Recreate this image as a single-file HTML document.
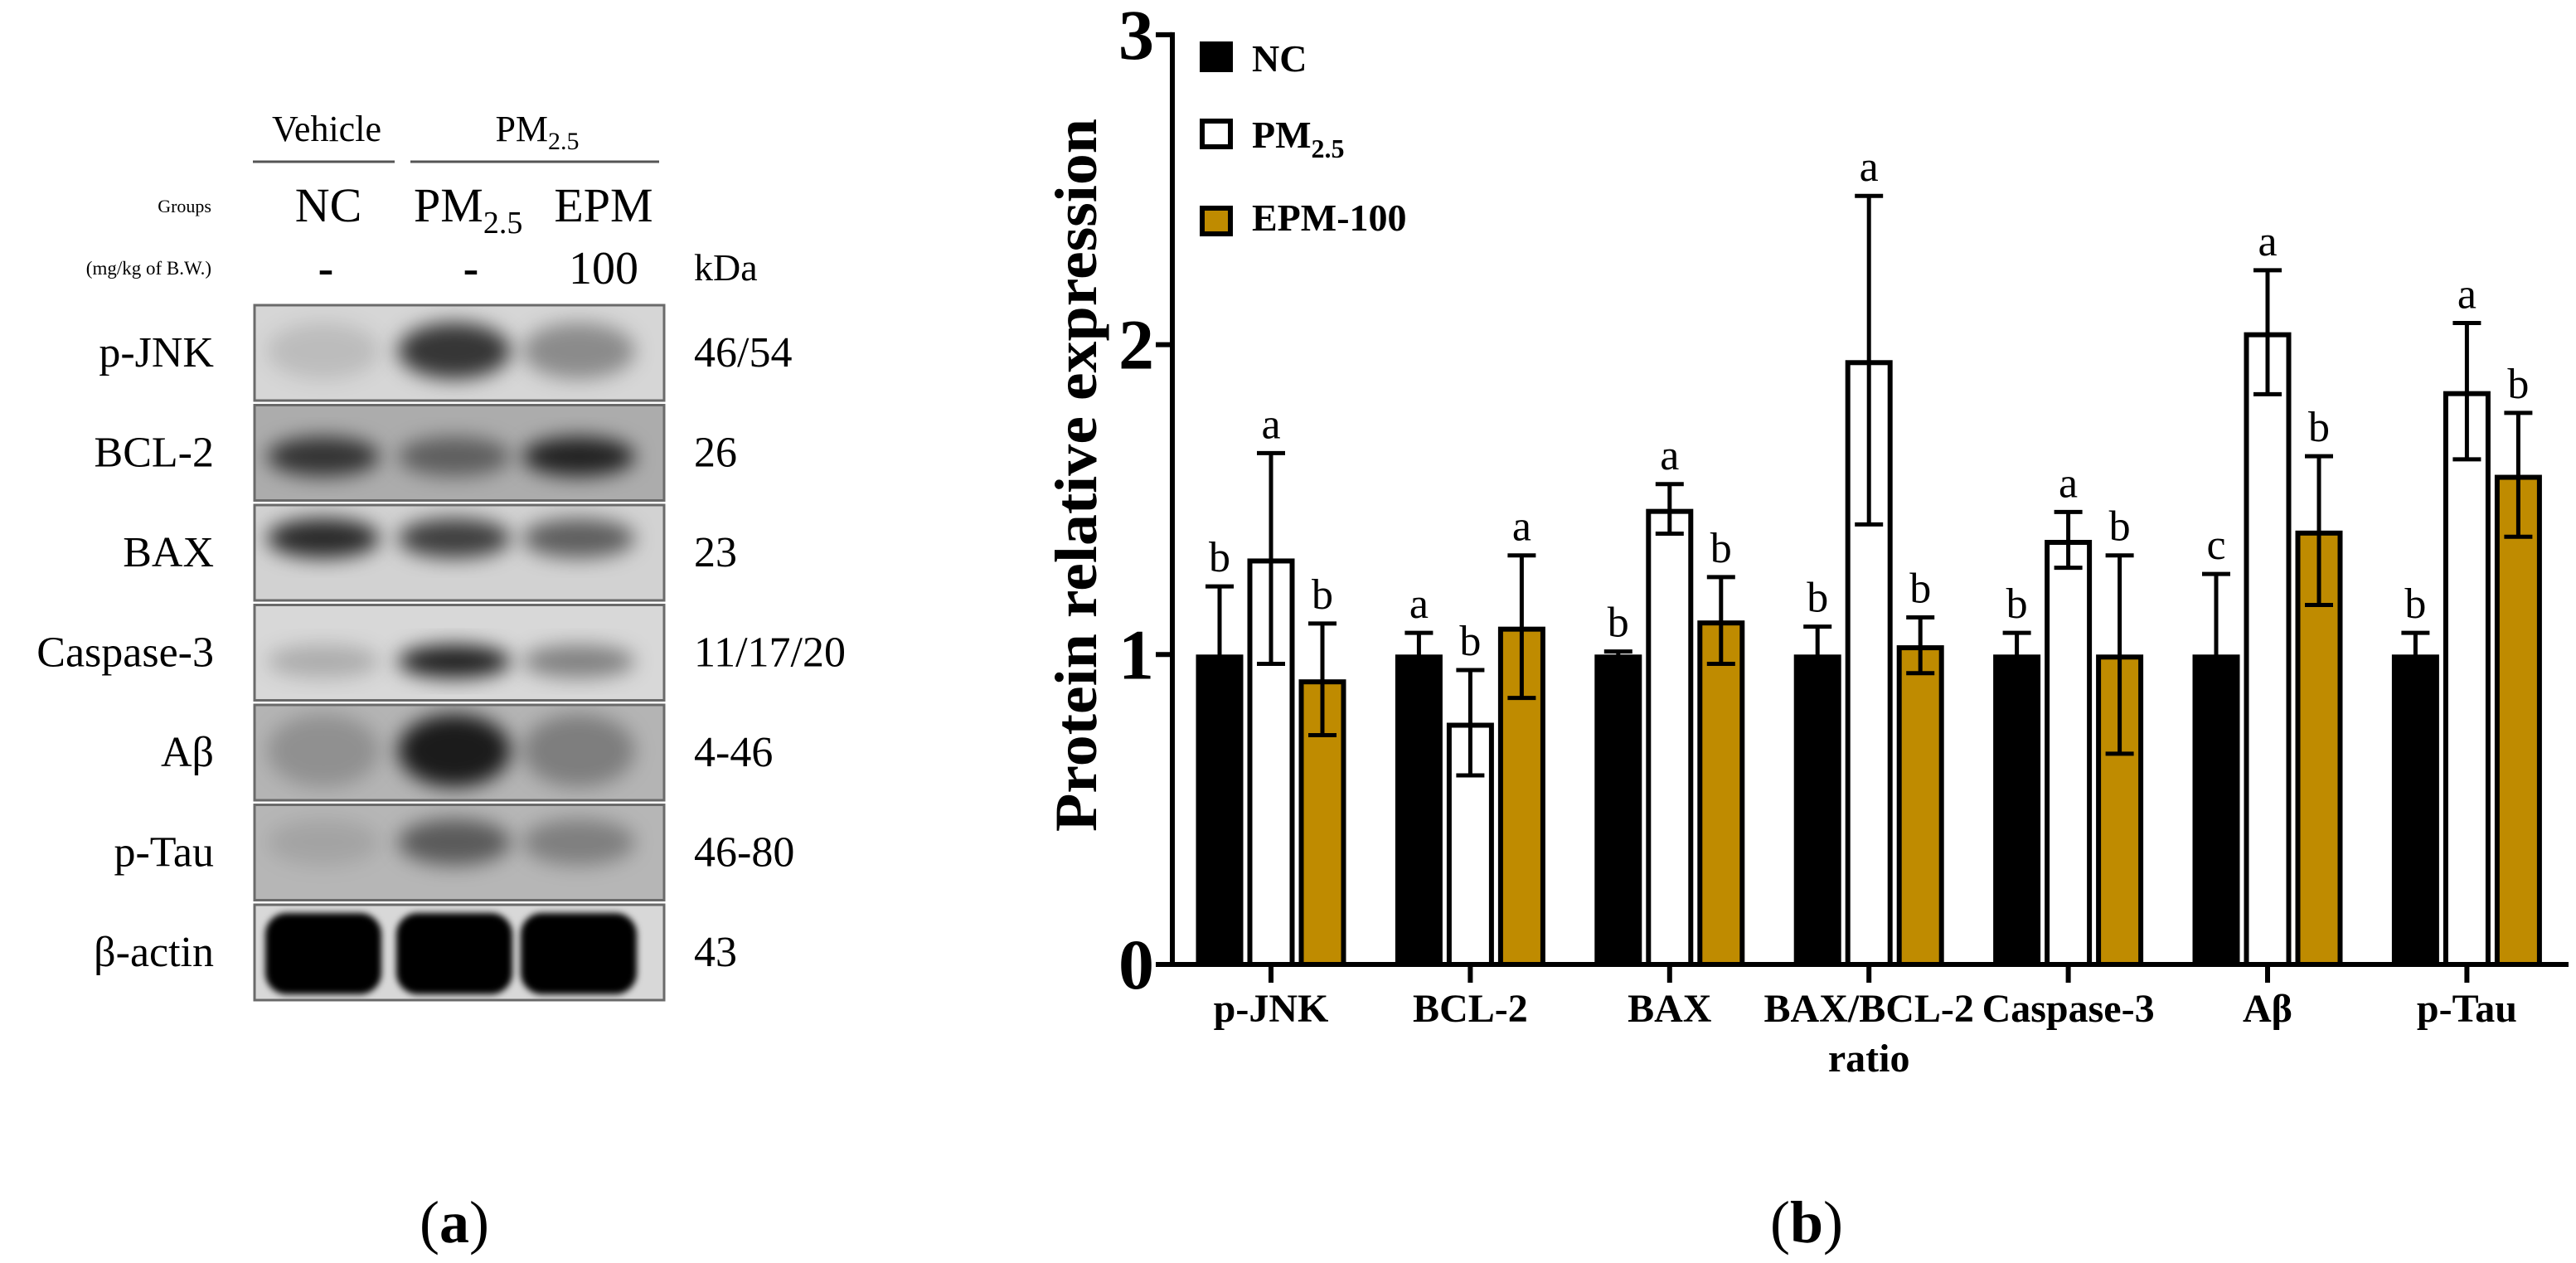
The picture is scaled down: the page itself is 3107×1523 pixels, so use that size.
<!DOCTYPE html>
<html><head><meta charset="utf-8"><style>
html,body{margin:0;padding:0;background:#fff;}
svg{display:block;}
text{font-family:"Liberation Serif",serif;}
</style></head>
<body>
<svg id="fig" width="3107" height="1523" viewBox="0 0 3107 1523" xmlns="http://www.w3.org/2000/svg" font-family="Liberation Serif, serif">
<defs>
<filter id="blur8" x="-50%" y="-50%" width="200%" height="200%"><feGaussianBlur stdDeviation="12"/></filter>
<filter id="blur3" x="-20%" y="-20%" width="140%" height="140%"><feGaussianBlur stdDeviation="4"/></filter>
</defs>

<!-- Panel A: western blot -->
<g font-family="Liberation Serif, serif">
  <text x="394" y="170" font-size="44" text-anchor="middle">Vehicle</text>
  <text x="648" y="170" font-size="44" text-anchor="middle">PM<tspan font-size="30" dy="10">2.5</tspan></text>
  <line x1="305" y1="195" x2="476" y2="195" stroke="#555" stroke-width="3"/>
  <line x1="495" y1="195" x2="795" y2="195" stroke="#555" stroke-width="3"/>
  <text x="255" y="256" font-size="22" text-anchor="end">Groups</text>
  <text x="396" y="267" font-size="58" text-anchor="middle">NC</text>
  <text x="499" y="267" font-size="58">PM<tspan font-size="38" dy="14">2.5</tspan></text>
  <text x="728" y="267" font-size="58" text-anchor="middle">EPM</text>
  <text x="255" y="331" font-size="23" text-anchor="end">(mg/kg of B.W.)</text>
  <text x="393" y="342" font-size="56" text-anchor="middle" font-weight="bold">-</text>
  <text x="568" y="342" font-size="56" text-anchor="middle" font-weight="bold">-</text>
  <text x="728" y="342" font-size="56" text-anchor="middle">100</text>
  <text x="837" y="338" font-size="46">kDa</text>
  <g id="blots"></g>
  <text x="548" y="1498" font-size="72" text-anchor="middle">(<tspan font-weight="bold">a</tspan>)</text>
</g>

<!-- Panel B: chart -->
<g id="chart" font-family="Liberation Serif, serif">
  <text x="2179" y="1498" font-size="72" text-anchor="middle">(<tspan font-weight="bold">b</tspan>)</text>
</g>
</svg>

<script>
// ---------- chart data ----------
const categories = ["p-JNK","BCL-2","BAX","BAX/BCL-2","Caspase-3","Aβ","p-Tau"];
const categorySecondLine = ["","","","ratio","","",""];
const ncValues  = [1, 1, 1, 1, 1, 1, 1];
const ncErr     = [0.22, 0.07, 0.01, 0.09, 0.07, 0.26, 0.07];
const pmValues  = [1.31, 0.78, 1.47, 1.95, 1.37, 2.04, 1.85];
const pmErr     = [0.34, 0.17, 0.08, 0.53, 0.09, 0.20, 0.22];
const epmValues = [0.92, 1.09, 1.11, 1.03, 1.00, 1.40, 1.58];
const epmErr    = [0.18, 0.23, 0.14, 0.09, 0.32, 0.24, 0.20];
const ncLetters  = ["b","a","b","b","b","c","b"];
const pmLetters  = ["a","b","a","a","a","a","a"];
const epmLetters = ["b","a","b","b","b","b","b"];
const yTicks = [0, 1, 2, 3];

// ---------- blot data ----------
const blotProteins = ["p-JNK","BCL-2","BAX","Caspase-3","Aβ","p-Tau","β-actin"];
const blotKda = ["46/54","26","23","11/17/20","4-46","46-80","43"];
const blotBg = ["#d6d6d6","#acacac","#d2d2d2","#d8d8d8","#b4b4b4","#b6b6b6","#d8d8d8"];
// band darkness per lane (0 = none, 1 = black): NC, PM, EPM
const blotIntensity = [
  [0.12, 0.75, 0.35],
  [0.7, 0.45, 0.8],
  [0.8, 0.7, 0.55],
  [0.2, 0.85, 0.4],
  [0.2, 0.85, 0.3],
  [0.1, 0.5, 0.3],
  [1, 1, 1]
];

const NS = "http://www.w3.org/2000/svg";
function mk(tag, attrs, parent) {
  const e = document.createElementNS(NS, tag);
  for (const k in attrs) e.setAttribute(k, attrs[k]);
  parent.appendChild(e);
  return e;
}

// ---------- chart scales ----------
const Y0 = 1163, PX_PER_UNIT = 373.7, AXIS_X = 1414, FIRST_C = 1533, STEP = 240.4, BAR_OFF = 62, BAR_W = 57;
function yScale(v) { return Y0 - v * PX_PER_UNIT; }
function xScale(i) { return FIRST_C + i * STEP; }

const chart = document.getElementById('chart');
const seriesList = [
  {vals: ncValues, errs: ncErr, letters: ncLetters, fill: "#000", off: -BAR_OFF, name: "nc"},
  {vals: pmValues, errs: pmErr, letters: pmLetters, fill: "#fff", off: 0, name: "pm25"},
  {vals: epmValues, errs: epmErr, letters: epmLetters, fill: "#BF8B00", off: BAR_OFF, name: "epm100"}
];

categories.forEach((cat, i) => {
  const c = xScale(i);
  seriesList.forEach(s => {
    const cx = c + s.off;
    const top = yScale(s.vals[i]);
    const r = mk('rect', {x: cx - BAR_W/2 + 3, y: top + 3, width: BAR_W - 6, height: Y0 - top - 3, fill: s.fill, stroke: "#000", "stroke-width": 6}, chart);
    
    
    const eTop = yScale(s.vals[i] + s.errs[i]);
    const eBot = yScale(s.vals[i] - s.errs[i]);
    const eb = mk('path', {d: `M${cx},${eTop}V${eBot}M${cx-17},${eTop}H${cx+17}M${cx-17},${eBot}H${cx+17}`, stroke: "#000", "stroke-width": 5, fill: "none"}, chart);
    
    
    const lt = mk('text', {x: cx, y: eTop - 18, "font-size": 52, "text-anchor": "middle", "font-family": "Liberation Serif, serif"}, chart);
    lt.textContent = s.letters[i];
    
    
  });
  const tk = mk('line', {x1: c, y1: Y0, x2: c, y2: 1185, stroke: "#000", "stroke-width": 6}, chart);
  
  
  const lb = mk('text', {x: c, y: 1232, "font-size": 48, "font-weight": "bold", "text-anchor": "middle", "font-family": "Liberation Serif, serif"}, chart);
  lb.textContent = cat;
  
  
  if (categorySecondLine[i]) {
    const lb2 = mk('text', {x: c, y: 1292, "font-size": 48, "font-weight": "bold", "text-anchor": "middle", "font-family": "Liberation Serif, serif"}, chart);
    lb2.textContent = categorySecondLine[i];
    
    
  }
});

// axes
const yAxis = mk('line', {x1: AXIS_X, y1: yScale(3) - 3, x2: AXIS_X, y2: Y0 + 3, stroke: "#000", "stroke-width": 6}, chart);


const xAxis = mk('line', {x1: 1394, y1: Y0, x2: 3098, y2: Y0, stroke: "#000", "stroke-width": 6}, chart);


yTicks.forEach(v => {
  const t = mk('line', {x1: 1394, y1: yScale(v), x2: AXIS_X, y2: yScale(v), stroke: "#000", "stroke-width": 6}, chart);
  
  
  const l = mk('text', {x: 1392, y: yScale(v) + 29, "font-size": 86, "font-weight": "bold", "text-anchor": "end", "font-family": "Liberation Serif, serif"}, chart);
  l.textContent = String(v);
  
  
});
const yt = mk('text', {x: 0, y: 0, "font-size": 72, "font-weight": "bold", "text-anchor": "middle", textLength: 860, lengthAdjust: "spacingAndGlyphs", transform: "translate(1322,573) rotate(-90)", "font-family": "Liberation Serif, serif"}, chart);
yt.textContent = "Protein relative expression";



// legend
const legend = mk('g', {}, chart);


const legRows = [
  {y: 50, fill: "#000", label: "NC", base: 86, name: "legend-entry-nc"},
  {y: 143, fill: "#fff", label: "PM", sub: "2.5", base: 178, name: "legend-entry-pm25"},
  {y: 248, fill: "#BF8B00", label: "EPM-100", base: 278, name: "legend-entry-epm100"}
];
legRows.forEach(r => {
  const g = mk('g', {}, legend);
  
  
  mk('rect', {x: 1450, y: r.y + 3, width: 34, height: 31, fill: r.fill, stroke: "#000", "stroke-width": 6}, g);
  const t = mk('text', {x: 1510, y: r.base, "font-size": 46, "font-weight": "bold", "font-family": "Liberation Serif, serif"}, g);
  t.textContent = r.label;
  if (r.sub) {
    const ts = mk('tspan', {"font-size": 32, dy: 12}, t);
    ts.textContent = r.sub;
  }
});

// ---------- blots ----------
const blots = document.getElementById('blots');
const laneX = [390, 548, 698];
const BOX_L = 307, BOX_W = 494, BOX_TOP = 368, BOX_PITCH = 120.5, BOX_H = 115;
blotProteins.forEach((p, i) => {
  const top = BOX_TOP + i * BOX_PITCH;
  const g = mk('g', {}, blots);
  
  
  mk('rect', {x: BOX_L, y: top, width: BOX_W, height: BOX_H, fill: blotBg[i]}, g);
  const cp = 'cp' + i;
  const clip = mk('clipPath', {id: cp}, g);
  mk('rect', {x: BOX_L, y: top, width: BOX_W, height: BOX_H}, clip);
  const bands = mk('g', {"clip-path": `url(#${cp})`}, g);
  blotIntensity[i].forEach((d, j) => {
    if (i === 6) {
      mk('rect', {x: laneX[j] - 70, y: top + 10, width: 140, height: 98, rx: 26, fill: "#000", filter: "url(#blur3)"}, bands);
    } else {
      let cy = top + 55, ry = 34;
      if (i === 1) { cy = top + 62; ry = 24; }
      if (i === 2) { cy = top + 40; ry = 24; }
      if (i === 3) { cy = top + 68; ry = 20; }
      if (i === 4) { ry = 44; }
      if (i === 5) { cy = top + 45; ry = 28; }
      mk('ellipse', {cx: laneX[j], cy: cy, rx: 68, ry: ry, fill: "#000", "fill-opacity": d, filter: "url(#blur8)"}, bands);
    }
  });
  mk('rect', {x: BOX_L, y: top, width: BOX_W, height: BOX_H, fill: "none", stroke: "#6a6a6a", "stroke-width": 3}, g);
  const lbl = mk('text', {x: 258, y: top + 74, "font-size": 52, "text-anchor": "end", "font-family": "Liberation Serif, serif"}, g);
  lbl.textContent = p;
  
  
  const kd = mk('text', {x: 837, y: top + 74, "font-size": 52, "font-family": "Liberation Serif, serif"}, g);
  kd.textContent = blotKda[i];
  
  
});
</script>
</body></html>
